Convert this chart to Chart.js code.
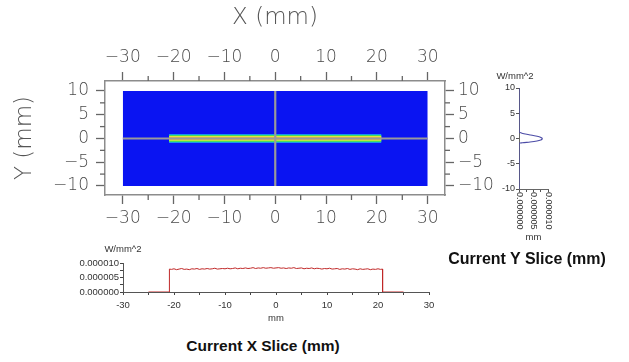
<!DOCTYPE html>
<html>
<head>
<meta charset="utf-8">
<script src="https://cdn.jsdelivr.net/npm/chart.js@4.4.0/dist/chart.umd.min.js"></script>
<style>
    html, body { margin: 0; padding: 0; background: #fff; width: 629px; height: 362px; overflow: hidden; }
    body { position: relative; font-family: 'Liberation Sans', Arial, sans-serif; }
    .box { position: absolute; }
    .caption { position: absolute; font-weight: bold; color: #111; white-space: nowrap; transform: translate(-50%, -50%); }
    .unit { position: absolute; font-size: 9.5px; color: #333; white-space: nowrap; transform: translate(-50%, -50%); }
</style>
</head>
<body>
<div class="box" style="left:0;top:0;width:505px;height:235px"><canvas id="mapChart"></canvas></div>
<div class="box" style="left:480px;top:60px;width:149px;height:190px"><canvas id="ySliceChart"></canvas></div>
<div class="box" style="left:60px;top:240px;width:400px;height:90px"><canvas id="xSliceChart"></canvas></div>

<div class="unit" style="left:515px;top:75px">W/mm^2</div>
<div class="unit" style="left:123px;top:248px">W/mm^2</div>
<div class="caption" style="left:527px;top:259px;font-size:16px">Current Y Slice (mm)</div>
<div class="caption" style="left:263px;top:346px;font-size:15.5px">Current X Slice (mm)</div>

<script>
// Map axes (mm)
const mapXTicks = [-30, -25, -20, -15, -10, -5, 0, 5, 10, 15, 20, 25, 30];
const mapYTicks = [-10, -7.5, -5, -2.5, 0, 2.5, 5, 7.5, 10];

// Detector area and beam stripe (mm)
const fieldX = [-30, 30];
const fieldY = [-10, 10];
const stripeX = [-20.9, 20.9];
const stripeHalfWidths = [0.9, 0.72, 0.5, 0.2];

// Current X slice: position (mm) and value (1e-6 W/mm^2)
const xSlicePos = [-25, -20.9, -20.9,
    -20.5, -20, -19.5, -19, -18.5, -18, -17.5, -17, -16.5, -16, -15.5, -15, -14.5, -14, -13.5, -13, -12.5, -12, -11.5, -11, -10.5, -10,
    -9.5, -9, -8.5, -8, -7.5, -7, -6.5, -6, -5.5, -5, -4.5, -4, -3.5, -3, -2.5, -2, -1.5, -1, -0.5, 0,
    0.5, 1, 1.5, 2, 2.5, 3, 3.5, 4, 4.5, 5, 5.5, 6, 6.5, 7, 7.5, 8, 8.5, 9, 9.5, 10,
    10.5, 11, 11.5, 12, 12.5, 13, 13.5, 14, 14.5, 15, 15.5, 16, 16.5, 17, 17.5, 18, 18.5, 19, 19.5, 20, 20.5,
    20.9, 20.9, 25];
const xSliceVal = [0, 0, 7.9,
    7.8, 8.0, 7.7, 7.9, 8.1, 7.8, 7.9, 7.7, 8.0, 7.9, 8.1, 7.8, 8.0, 7.9, 8.1, 7.9, 8.0, 8.2, 7.9, 8.0, 8.1, 8.0,
    8.2, 8.0, 8.1, 8.3, 8.0, 8.2, 8.1, 8.3, 8.1, 8.2, 8.4, 8.1, 8.3, 8.2, 8.4, 8.2, 8.3, 8.4, 8.2, 8.3,
    8.4, 8.2, 8.3, 8.1, 8.3, 8.2, 8.4, 8.1, 8.2, 8.3, 8.0, 8.2, 8.1, 8.3, 8.0, 8.2, 8.1, 7.9, 8.1, 8.0,
    8.2, 7.9, 8.0, 8.1, 7.8, 8.0, 7.9, 8.1, 7.8, 8.0, 7.9, 7.7, 8.0, 7.8, 7.9, 8.0, 7.7, 7.9, 7.8, 8.0, 7.8,
    7.9, 0, 0];
const xSliceXTicks = [-30, -25, -20, -15, -10, -5, 0, 5, 10, 15, 20, 25, 30];
const valueTicks = [0, 2.5, 5, 7.5, 10];

// Current Y slice: position (mm) and value (1e-6 W/mm^2)
const ySlicePos = [-10, -1.0, -0.85, -0.7, -0.5, -0.3, -0.1, 0, 0.1, 0.3, 0.5, 0.7, 0.9, 1.1, 1.35, 10];
const ySliceVal = [0, 0, 1.2, 3.8, 6.2, 7.5, 8.0, 8.0, 7.9, 7.2, 5.8, 4.0, 2.2, 0.8, 0, 0];

const thinFont = "'DejaVu Sans', sans-serif";
const arialFont = "'Liberation Sans', Arial, sans-serif";

function fmtMinus(v) {
    return v < 0 ? '\u2212' + Math.abs(v) : String(v);
}
function fmtValue(v) {
    return (v / 1e6).toFixed(6);
}

// short ticks for the unlabelled steps
const minorTicks = {
    id: 'minorTicks',
    afterDraw(chart, args, opts) {
        if (!opts.enabled) return;
        const ctx = chart.ctx;
        const area = chart.chartArea;
        ctx.save();
        ctx.strokeStyle = opts.color;
        ctx.lineWidth = opts.width;
        Object.values(chart.scales).forEach(scale => {
            scale.ticks.forEach(t => {
                if (opts.isMajor(scale, t.value)) return;
                const p = scale.getPixelForValue(t.value);
                ctx.beginPath();
                if (scale.position === 'top') { ctx.moveTo(p, area.top); ctx.lineTo(p, area.top - opts.len); }
                if (scale.position === 'bottom') { ctx.moveTo(p, area.bottom); ctx.lineTo(p, area.bottom + opts.len); }
                if (scale.position === 'left') { ctx.moveTo(area.left, p); ctx.lineTo(area.left - opts.len, p); }
                if (scale.position === 'right') { ctx.moveTo(area.right, p); ctx.lineTo(area.right + opts.len, p); }
                ctx.stroke();
            });
        });
        ctx.restore();
    }
};

function isMapMajor(scale, v) {
    return scale.axis === 'x' ? v % 10 === 0 : v % 5 === 0;
}

function mapScale(position, tickValues, min, max, size, title) {
    const horizontal = position === 'top' || position === 'bottom';
    return {
        type: 'linear',
        position: position,
        min: min,
        max: max,
        afterBuildTicks: s => { s.ticks = tickValues.map(v => ({ value: v })); },
        afterFit: s => { if (horizontal) s.height = size; else s.width = size; },
        grid: {
            drawOnChartArea: false,
            tickLength: 9,
            tickWidth: 1.3,
            tickColor: c => isMapMajor(c.scale, c.tick.value) ? '#666' : 'transparent'
        },
        border: { display: true, color: '#8c8c8c', width: 1.5 },
        ticks: {
            autoSkip: false,
            maxRotation: 0,
            padding: position === 'left' ? 7 : 4,
            color: '#4a4a4a',
            font: { family: thinFont, size: 17, weight: '200' },
            callback: function (v) { return isMapMajor(this, v) ? fmtMinus(v) : ''; }
        },
        title: title ? {
            display: true,
            text: title,
            color: '#555',
            font: { family: thinFont, size: 23, weight: '200' },
            padding: { top: position === 'left' ? 11 : 4, bottom: 0 }
        } : { display: false }
    };
}

const rect = (x, y) => [{ x: x[0], y: y[1] }, { x: x[1], y: y[1] }];

const bandColors = ['#1ec3e8', '#46dd5c', '#e4e63a', '#f09a2c'];
const mapDatasets = [
    {
        data: rect(fieldX, fieldY),
        fill: { value: fieldY[0] },
        backgroundColor: '#0a14f2',
        order: 10
    },
    ...stripeHalfWidths.map((h, i) => ({
        data: rect(stripeX, [-h, h]),
        fill: { value: -h },
        backgroundColor: bandColors[i],
        order: 9 - i
    })),
    {
        data: [{ x: 0, y: fieldY[0] }, { x: 0, y: fieldY[1] }],
        borderColor: '#9a9a9a',
        borderWidth: 2.2,
        order: 2
    },
    {
        data: [{ x: fieldX[0], y: 0 }, { x: fieldX[1], y: 0 }],
        borderColor: '#9a9a9a',
        borderWidth: 2.2,
        order: 1
    }
];
mapDatasets.forEach(d => {
    d.pointRadius = 0;
    if (!d.borderColor) { d.borderColor = 'transparent'; d.borderWidth = 0; }
});

new Chart(document.getElementById('mapChart'), {
    type: 'line',
    data: { datasets: mapDatasets },
    options: {
        responsive: true,
        maintainAspectRatio: false,
        animation: false,
        layout: { padding: 0 },
        plugins: {
            legend: { display: false },
            tooltip: { enabled: false },
            minorTicks: { enabled: true, color: '#666', width: 1.3, len: 5, isMajor: isMapMajor }
        },
        scales: {
            x: mapScale('top', mapXTicks, -33.5, 33.4, 81, 'X (mm)'),
            x2: mapScale('bottom', mapXTicks, -33.5, 33.4, 40),
            y: mapScale('left', mapYTicks, -11.9, 12.1, 105, 'Y (mm)'),
            y2: mapScale('right', mapYTicks, -11.9, 12.1, 60)
        }
    },
    plugins: [minorTicks]
});

// rotated value labels under the Y slice plot
const verticalLabels = {
    id: 'verticalLabels',
    afterDraw(chart) {
        const ctx = chart.ctx;
        const xs = chart.scales.x;
        ctx.save();
        ctx.fillStyle = '#333';
        ctx.font = '9px ' + arialFont;
        ctx.textAlign = 'left';
        ctx.textBaseline = 'middle';
        [0, 5, 10].forEach(v => {
            ctx.save();
            ctx.translate(xs.getPixelForValue(v), chart.chartArea.bottom + 3);
            ctx.rotate(Math.PI / 2);
            ctx.fillText(fmtValue(v), 0, 0);
            ctx.restore();
        });
        ctx.restore();
    }
};

new Chart(document.getElementById('ySliceChart'), {
    type: 'line',
    data: {
        datasets: [{
            data: ySlicePos.map((p, i) => ({ x: ySliceVal[i], y: p })),
            borderColor: '#4b4ba6',
            borderWidth: 1.1,
            pointRadius: 0,
            tension: 0.25
        }]
    },
    options: {
        responsive: true,
        maintainAspectRatio: false,
        animation: false,
        layout: { padding: { top: 28, right: 81, left: 0, bottom: 0 } },
        plugins: { legend: { display: false }, tooltip: { enabled: false } },
        scales: {
            x: {
                type: 'linear',
                min: 0,
                max: 10,
                afterBuildTicks: s => { s.ticks = valueTicks.map(v => ({ value: v })); },
                afterFit: s => { s.height = 61; },
                grid: { drawOnChartArea: false, tickLength: 3, tickColor: '#555' },
                border: { color: '#666' },
                ticks: { display: false },
                title: {
                    display: true,
                    text: 'mm',
                    color: '#333',
                    font: { family: arialFont, size: 9.5 },
                    padding: { top: 0, bottom: 7 }
                }
            },
            y: {
                type: 'linear',
                min: -10,
                max: 10,
                afterBuildTicks: s => { s.ticks = [-10, -5, 0, 5, 10].map(v => ({ value: v })); },
                afterFit: s => { s.width = 39; },
                grid: { drawOnChartArea: false, tickLength: 3, tickColor: '#555' },
                border: { color: '#666' },
                ticks: { color: '#333', padding: 1, font: { family: arialFont, size: 9 } }
            }
        }
    },
    plugins: [verticalLabels]
});

new Chart(document.getElementById('xSliceChart'), {
    type: 'line',
    data: {
        datasets: [{
            data: xSlicePos.map((p, i) => ({ x: p, y: xSliceVal[i] })),
            borderColor: '#c02828',
            borderWidth: 1,
            pointRadius: 0
        }]
    },
    options: {
        responsive: true,
        maintainAspectRatio: false,
        animation: false,
        layout: { padding: { top: 23, right: 31, left: 0, bottom: 0 } },
        plugins: { legend: { display: false }, tooltip: { enabled: false } },
        scales: {
            x: {
                type: 'linear',
                min: -30,
                max: 30,
                afterBuildTicks: s => { s.ticks = xSliceXTicks.map(v => ({ value: v })); },
                afterFit: s => { s.height = 38; },
                grid: { drawOnChartArea: false, tickLength: 3, tickColor: '#444' },
                border: { color: '#555' },
                ticks: {
                    autoSkip: false,
                    maxRotation: 0,
                    color: '#333',
                    padding: 5,
                    font: { family: arialFont, size: 9.5 },
                    callback: v => v % 10 === 0 ? String(v) : ''
                },
                title: {
                    display: true,
                    text: 'mm',
                    color: '#333',
                    font: { family: arialFont, size: 9.5 },
                    padding: { top: 0, bottom: 6 }
                }
            },
            y: {
                type: 'linear',
                min: 0,
                max: 10,
                afterBuildTicks: s => { s.ticks = valueTicks.map(v => ({ value: v })); },
                afterFit: s => { s.width = 63; },
                grid: { drawOnChartArea: false, tickLength: 3, tickColor: '#444' },
                border: { color: '#555' },
                ticks: {
                    autoSkip: false,
                    color: '#333',
                    padding: 1,
                    font: { family: arialFont, size: 9.5 },
                    callback: v => v % 5 === 0 ? fmtValue(v) : ''
                }
            }
        }
    }
});
</script>
</body>
</html>
